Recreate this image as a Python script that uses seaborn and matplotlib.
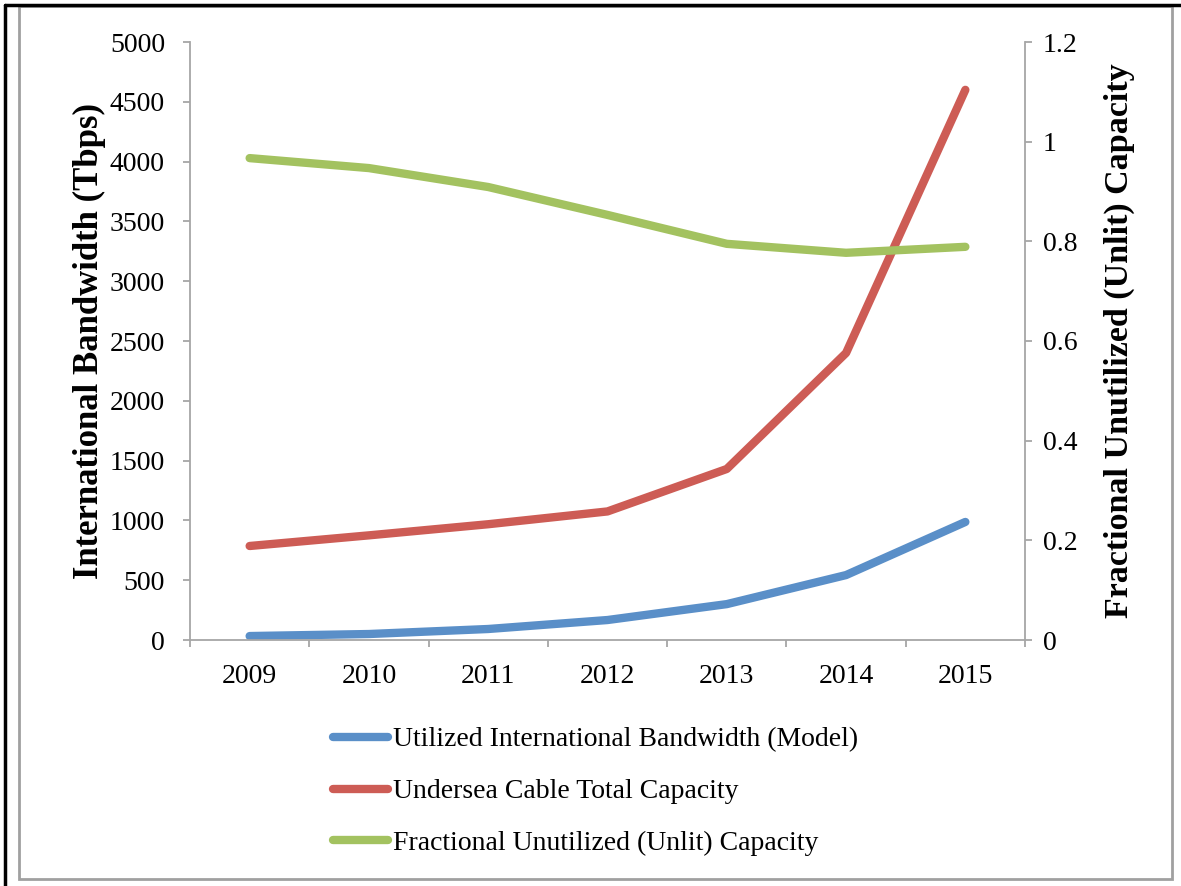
import matplotlib
matplotlib.use("Agg")
import matplotlib.pyplot as plt
import seaborn as sns
import pandas as pd
import numpy as np
from matplotlib.lines import Line2D
from matplotlib.patches import Rectangle

years = ["2009", "2010", "2011", "2012", "2013", "2014", "2015"]
utilized_bw = [33, 50, 92, 167, 300, 543, 987]
cable_capacity = [786, 875, 968, 1075, 1430, 2400, 4600]
unlit_fraction = [0.967, 0.947, 0.909, 0.853, 0.795, 0.777, 0.789]

labels = ["Utilized International Bandwidth (Model)",
          "Undersea Cable Total Capacity",
          "Fractional Unutilized (Unlit) Capacity"]
colors = ["#5A8FC8", "#CD5C55", "#A3C260"]

sns.set_theme(style="white")
plt.rcParams["font.family"] = ["Liberation Serif", "DejaVu Serif"]
plt.rcParams["text.color"] = "black"
plt.rcParams["axes.labelcolor"] = "black"
plt.rcParams["xtick.color"] = "black"
plt.rcParams["ytick.color"] = "black"

df_left = pd.DataFrame({
    "year": years * 2,
    "value": utilized_bw + cable_capacity,
    "series": [labels[0]] * 7 + [labels[1]] * 7,
})
df_right = pd.DataFrame({"year": years, "value": unlit_fraction})

fig = plt.figure(figsize=(11.81, 8.86), dpi=100)
ax = fig.add_axes([190 / 1181, 1 - 640 / 886, (1025 - 190) / 1181, (640 - 42) / 886])
ax2 = ax.twinx()

lw = 6.0
sns.lineplot(data=df_left, x="year", y="value", hue="series",
             palette=colors[:2], linewidth=lw, ax=ax, legend=False,
             sort=False, solid_capstyle="round")
sns.lineplot(data=df_right, x="year", y="value", color=colors[2],
             linewidth=lw, ax=ax2, legend=False, sort=False,
             solid_capstyle="round")

ax.set_xlim(-0.5, 6.5)
ax.set_ylim(0, 5000)
ax2.set_ylim(0, 1.2)
ax.set_yticks(np.arange(0, 5001, 500))
ax2.set_yticks([0, 0.2, 0.4, 0.6, 0.8, 1.0, 1.2])
ax2.set_yticklabels(["0", "0.2", "0.4", "0.6", "0.8", "1", "1.2"])
ax.set_xticks(range(7))
ax.set_xticklabels(years)
ax.set_xticks(np.arange(-0.5, 7, 1), minor=True)

gray = "#A6A6A6"
for a in (ax, ax2):
    for s in a.spines.values():
        s.set_visible(False)
for a, side in ((ax, "left"), (ax, "bottom"), (ax2, "right")):
    a.spines[side].set_visible(True)
    a.spines[side].set_color(gray)
    a.spines[side].set_linewidth(1.3)

fs = 20
tl = 5
ax.tick_params(axis="y", which="major", direction="out", length=tl, width=1.3,
               color=gray, labelcolor="black", labelsize=fs, pad=13, left=True)
ax.tick_params(axis="x", which="major", length=0, labelsize=fs, pad=17,
               labelcolor="black")
ax.tick_params(axis="x", which="minor", direction="out", length=tl, width=1.3,
               color=gray, bottom=True)
ax2.tick_params(axis="y", direction="out", length=tl, width=1.3, color=gray,
                labelcolor="black", labelsize=fs, pad=8, right=True)

ax.set_xlabel("")
ax.set_ylabel("International Bandwidth (Tbps)", fontsize=25, fontweight="bold",
              labelpad=3, color="black")
ax2.set_ylabel("Fractional Unutilized (Unlit) Capacity", fontsize=24.5,
               fontweight="bold", labelpad=19, color="black")

handles = [Line2D([0], [0], color=c, linewidth=lw, solid_capstyle="round")
           for c in colors]
fig.legend(handles, labels, loc="upper left",
           bbox_to_anchor=(333 / 1181, 1 - 727 / 886), frameon=False,
           fontsize=fs, handlelength=1.98, handletextpad=0.18,
           labelspacing=0.95, borderpad=0, borderaxespad=0)

# chart frame
fig.add_artist(Rectangle((19 / 1181, 1 - 879 / 886), (1172 - 19) / 1181,
                         (879 - 6) / 886, transform=fig.transFigure,
                         fill=False, edgecolor="#A0A0A0", linewidth=2))
fig.add_artist(Line2D([5 / 1181, 5 / 1181], [0, 1 - 5 / 886],
                      transform=fig.transFigure, color="black", linewidth=2.5))
fig.add_artist(Line2D([5 / 1181, 1], [1 - 5 / 886, 1 - 5 / 886],
                      transform=fig.transFigure, color="black", linewidth=2.5))

fig.savefig("out.png", dpi=100)
